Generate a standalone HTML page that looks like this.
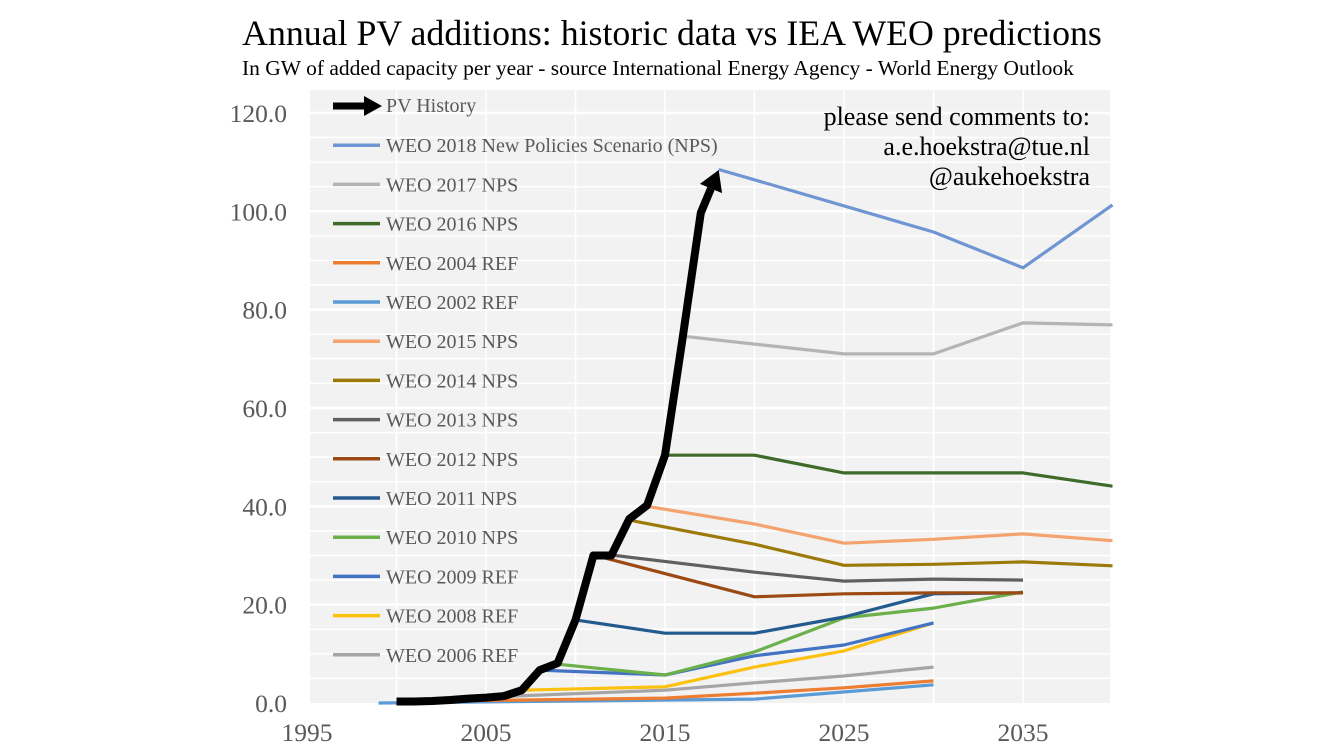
<!DOCTYPE html>
<html><head><meta charset="utf-8">
<style>
html,body{margin:0;padding:0;background:#fff;}
svg{display:block;font-family:"Liberation Serif",serif;}
</style></head>
<body>
<svg id="chart" width="1338" height="750" viewBox="0 0 1338 750" xmlns="http://www.w3.org/2000/svg">
<text x="672" y="45" text-anchor="middle" font-size="35.8" fill="#000">Annual PV additions: historic data vs IEA WEO predictions</text>
<text x="242" y="75" font-size="21.5" fill="#000">In GW of added capacity per year - source International Energy Agency - World Energy Outlook</text>
<rect x="310" y="90" width="800" height="613" fill="#f2f2f2"/>
<g id="grid"></g>
<g id="axes"></g>
<g id="series"></g>
<g id="legend"></g>
<text x="1090" y="125" text-anchor="end" font-size="26" fill="#000">please send comments to:</text>
<text x="1090" y="155" text-anchor="end" font-size="26" fill="#000">a.e.hoekstra@tue.nl</text>
<text x="1090" y="185" text-anchor="end" font-size="26" fill="#000">@aukehoekstra</text>
</svg>
<script>
const yTicks=[0,20,40,60,80,100,120];
const xTicks=[1995,2005,2015,2025,2035];
const histYears=[2000,2001,2002,2003,2004,2005,2006,2007,2008,2009,2010,2011,2012,2013,2014,2015,2016,2017,2018];
const histVals=[0.3,0.3,0.4,0.6,0.9,1.1,1.4,2.6,6.7,8.1,16.9,30,30,37.4,40.2,50.4,74.6,99.7,108.4];
const names=["WEO 2018 New Policies Scenario (NPS)","WEO 2017 NPS","WEO 2016 NPS","WEO 2004 REF","WEO 2002 REF","WEO 2015 NPS","WEO 2014 NPS","WEO 2013 NPS","WEO 2012 NPS","WEO 2011 NPS","WEO 2010 NPS","WEO 2009 REF","WEO 2008 REF","WEO 2006 REF"];
const colors=["#6f95d2","#b4b4b4","#3e6b2a","#ed7d31","#5b9bd5","#f4a26e","#9c7a0a","#606060","#9c4a14","#245b8f","#6bb04a","#4472c4","#fcc010","#a5a5a5"];
const yrs2018=[2018,2020,2030,2035,2040], v2018=[108.5,106.4,95.8,88.5,101.3];
const yrs2017=[2016,2020,2025,2030,2035,2040], v2017=[74.6,73,71,71,77.3,76.9];
const yrs2016=[2015,2020,2025,2030,2035,2040], v2016=[50.4,50.4,46.8,46.8,46.8,44.1];
const yrs2004=[2003,2015,2020,2025,2030], v2004=[0.4,1.0,2.0,3.1,4.5];
const yrs2002=[1999,2010,2020,2030], v2002=[0.0,0.4,0.8,3.7];
const yrs2015=[2014,2020,2025,2030,2035,2040], v2015=[40,36.4,32.5,33.3,34.4,33];
const yrs2014=[2013,2020,2025,2030,2035,2040], v2014=[37.2,32.3,28,28.2,28.7,27.9];
const yrs2013=[2012,2020,2025,2030,2035], v2013=[30.1,26.6,24.8,25.2,25];
const yrs2012=[2011,2020,2025,2030,2035], v2012=[30.1,21.6,22.2,22.4,22.4];
const yrs2011=[2010,2015,2020,2025,2030,2035], v2011=[16.9,14.2,14.2,17.5,22.2,22.4];
const yrs2010=[2009,2015,2020,2025,2030,2035], v2010=[7.9,5.7,10.4,17.3,19.3,22.6];
const yrs2009=[2008,2015,2020,2025,2030], v2009=[6.7,5.7,9.6,11.8,16.3];
const yrs2008=[2007,2015,2020,2025,2030], v2008=[2.6,3.3,7.3,10.6,16.3];
const yrs2006=[2005,2015,2020,2025,2030], v2006=[1.2,2.6,4.1,5.5,7.3];
const seriesYears=[yrs2018,yrs2017,yrs2016,yrs2004,yrs2002,yrs2015,yrs2014,yrs2013,yrs2012,yrs2011,yrs2010,yrs2009,yrs2008,yrs2006];
const seriesVals=[v2018,v2017,v2016,v2004,v2002,v2015,v2014,v2013,v2012,v2011,v2010,v2009,v2008,v2006];
const drawOrder=[4,3,13,12,11,10,9,8,7,6,5,2,1,0];

const NS="http://www.w3.org/2000/svg";
function X(yr){return 665+(yr-2015)*17.9;}
function Y(v){return 703-v*4.917;}
function mk(tag,attrs,parent){const e=document.createElementNS(NS,tag);for(const k in attrs)e.setAttribute(k,attrs[k]);parent.appendChild(e);return e;}
const grid=document.getElementById('grid'),axes=document.getElementById('axes'),ser=document.getElementById('series'),leg=document.getElementById('legend');
for(let v=5;v<=125;v+=5){const l=mk('line',{x1:310,x2:1110,y1:Y(v),y2:Y(v),stroke:'#fff','stroke-width':v%20===0?2.5:1.5},grid);

}
for(let yr=2000;yr<=2040;yr+=5){const l=mk('line',{x1:X(yr),x2:X(yr),y1:90,y2:703,stroke:'#fff','stroke-width':1.5},grid);

}
yTicks.forEach(v=>{const t=mk('text',{x:287,y:Y(v)+9,'text-anchor':'end','font-size':25.5,fill:'#595959'},axes);t.textContent=v.toFixed(1);

});
xTicks.forEach(yr=>{const t=mk('text',{x:X(yr),y:741,'text-anchor':'middle','font-size':25.5,fill:'#595959'},axes);t.textContent=yr;

});
function pts(ys,vs){return ys.map((y,i)=>X(y).toFixed(1)+','+Y(vs[i]).toFixed(1)).join(' ');}
drawOrder.forEach(i=>{const p=mk('polyline',{points:pts(seriesYears[i],seriesVals[i]),fill:'none',stroke:colors[i],'stroke-width':3.2,'stroke-linejoin':'round'},ser);

});
const hy=histYears.slice(0,-1),hv=histVals.slice(0,-1);
const n=histYears.length;
const x1=X(histYears[n-2]),y1=Y(histVals[n-2]),x2=X(histYears[n-1]),y2=Y(histVals[n-1]);
const ang=Math.atan2(y2-y1,x2-x1),L=20;
const bx=x2-L*Math.cos(ang),by=y2-L*Math.sin(ang);
const hp=mk('polyline',{points:pts(hy,hv)+' '+bx.toFixed(1)+','+by.toFixed(1),fill:'none',stroke:'#000','stroke-width':8,'stroke-linejoin':'round'},ser);


const px=-Math.sin(ang),py=Math.cos(ang),w=12;
const ah=mk('polygon',{points:`${x2},${y2} ${bx+px*w},${by+py*w} ${bx-px*w},${by-py*w}`,fill:'#000'},ser);


const legY0=106,legDy=39.2;
const g0=mk('g',{},leg);


mk('line',{x1:333,x2:366,y1:legY0,y2:legY0,stroke:'#000','stroke-width':7},g0);
mk('polygon',{points:`382,${legY0} 364,${legY0-10} 364,${legY0+10}`,fill:'#000'},g0);
const t0=mk('text',{x:386,y:legY0+6,'font-size':20,fill:'#595959'},g0);t0.textContent='PV History';
names.forEach((nm,i)=>{const yy=legY0+legDy*(i+1);const g=mk('g',{},leg);


mk('line',{x1:333,x2:380,y1:yy,y2:yy,stroke:colors[i],'stroke-width':3.5},g);
const t=mk('text',{x:386,y:yy+7,'font-size':20,fill:'#595959'},g);t.textContent=nm;});
</script>
</body></html>
